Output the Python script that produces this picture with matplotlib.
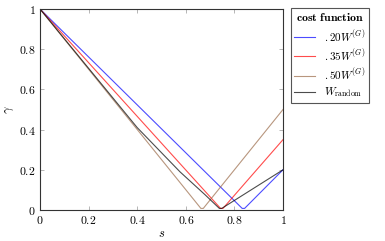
import matplotlib
matplotlib.use('Agg')
import matplotlib.pyplot as plt

plt.rcParams['mathtext.fontset'] = 'cm'
plt.rcParams['font.family'] = 'serif'
plt.rcParams['font.serif'] = ['DejaVu Serif']

# vertices
s_020 = [0, 0.832, 0.842, 1]
g_020 = [1, 0.008, 0.008, 0.2]
s_035 = [0, 0.743, 0.753, 1]
g_035 = [1, 0.008, 0.008, 0.35]
s_050 = [0, 0.662, 0.672, 1]
g_050 = [1, 0.008, 0.008, 0.5]
s_rand = [0, 0.4, 0.576, 0.68, 0.738, 0.748, 1]
g_rand = [1, 0.41, 0.19, 0.075, 0.008, 0.008, 0.2]

labels = [r'$.20W^{(G)}$', r'$.35W^{(G)}$', r'$.50W^{(G)}$', r'$W_{\mathrm{random}}$']
colors = ['#0000ff', '#ff0000', '#9a6a48', '#000000']
xticks = [0, 0.2, 0.4, 0.6, 0.8, 1]
yticks = [0, 0.2, 0.4, 0.6, 0.8, 1]
tick_labels = [r'$0$', r'$0.2$', r'$0.4$', r'$0.6$', r'$0.8$', r'$1$']

fig = plt.figure(figsize=(3.85, 2.41), dpi=100)
ax = fig.add_axes([40/385, 1-210/241, 243/385, 201/241])

series = [(s_020, g_020), (s_035, g_035), (s_050, g_050), (s_rand, g_rand)]
for (xs, ys), lab, c in zip(series, labels, colors):
    ax.plot(xs, ys, color=c, lw=0.8, alpha=0.7, label=lab)

ax.set_xlim(0, 1)
ax.set_ylim(0, 1)
ax.set_xticks(xticks)
ax.set_xticklabels(tick_labels, fontsize=8.5)
ax.set_yticks(yticks)
ax.set_yticklabels(tick_labels, fontsize=8.5)
ax.tick_params(direction='in', length=3, width=0.4, color='#808080',
               top=True, right=True, pad=3)
for sp in ax.spines.values():
    sp.set_linewidth(0.8)
    sp.set_color('#333333')
ax.set_xlabel(r'$s$', fontsize=9, labelpad=0)
ax.set_ylabel(r'$\gamma$', fontsize=9, labelpad=2)

leg = fig.legend(loc='upper left', bbox_to_anchor=(291/385, 1-8/241),
                 title=r'$\mathbf{cost\ function}$', fontsize=8,
                 title_fontsize=8.5, fancybox=False, edgecolor='#555555',
                 handlelength=1.9, handletextpad=0.8, borderpad=0.3,
                 labelspacing=0.3, borderaxespad=0, framealpha=1)
leg.get_frame().set_linewidth(0.8)

fig.savefig('out.png', dpi=100)
